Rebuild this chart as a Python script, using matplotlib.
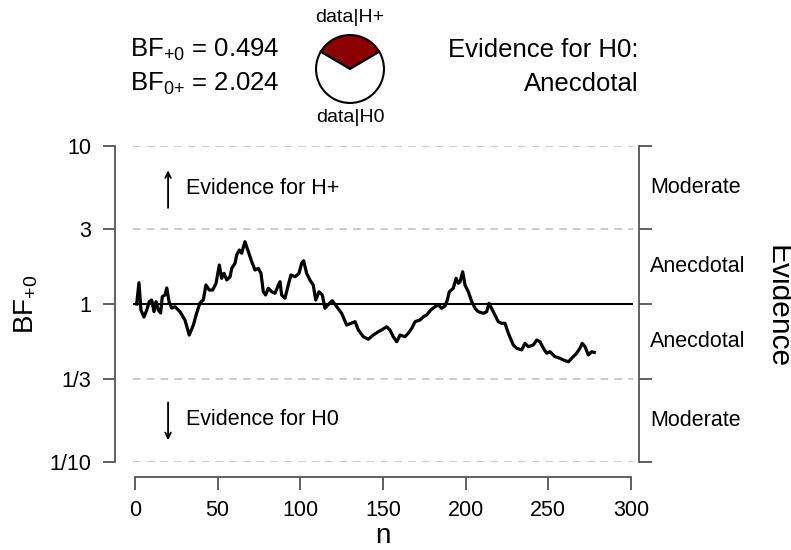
import numpy as np
import matplotlib
matplotlib.use('Agg')
import matplotlib.pyplot as plt
from matplotlib.ticker import NullLocator, FixedLocator, FixedFormatter
import matplotlib.transforms as mtransforms

plt.rcParams['font.family'] = ['Liberation Sans', 'DejaVu Sans']
plt.rcParams['mathtext.default'] = 'regular'

# Sequential BF+0 readings (n, BF)
n_obs = [1, 2.4, 3.6, 5.4, 7.1, 8.6, 10.1, 11.5, 12.7, 14.1,
         15.5, 16.5, 18.1, 19.2, 20.6, 22.2, 24.2, 27.2, 30.2, 32.8,
         35.3, 37.3, 39.3, 41.3, 42.9, 44.9, 47.0, 49.0, 51.0, 52.4,
         53.8, 55.5, 57.5, 58.5, 60.5, 61.5, 63.1, 64.5, 66.5, 68.5,
         70.6, 72.6, 74.6, 76.2, 77.6, 79.0, 80.6, 82.7, 84.7, 86.7,
         87.7, 88.7, 90.7, 92.7, 94.3, 96.8, 99.2, 100.8, 102.0, 103.8,
         105.8, 107.8, 109.3, 111.3, 113.3, 114.9, 116.6, 119.3, 122.0, 125.0,
         128.0, 130.6, 133.1, 135.1, 138.1, 141.1, 144.1, 147.2, 149.2, 152.2,
         154.2, 156.2, 158.3, 160.3, 163.3, 165.3, 167.4, 169.4, 172.4, 174.4,
         176.4, 178.9, 181.4, 183.5, 185.5, 187.5, 188.9, 190.1, 192.5, 194.2,
         195.6, 196.6, 198.2, 199.6, 201.6, 203.7, 205.7, 207.6, 210.7, 212.7,
         214.1, 216.7, 219.7, 221.8, 223.8, 225.8, 228.8, 230.9, 233.9, 235.9,
         237.9, 240.9, 243.0, 245.0, 247.0, 249.0, 251.0, 254.0, 257.1, 259.1,
         262.1, 265.1, 267.1, 269.1, 270.5, 272.2, 274.2, 276.2, 277.8]
bf_obs = [1.0, 1.364, 0.916, 0.827, 0.916, 1.034, 1.060, 0.894, 1.034, 0.916,
          0.877, 1.112, 1.140, 1.263, 1.034, 0.943, 0.961, 0.894, 0.792, 0.636,
          0.736, 0.877, 1.015, 1.060, 1.319, 1.226, 1.226, 1.352, 1.766, 1.454,
          1.564, 1.419, 1.489, 1.682, 1.810, 2.042, 2.197, 2.094, 2.479, 2.15,
          1.852, 1.641, 1.682, 1.564, 1.196, 1.140, 1.257, 1.196, 1.169, 1.319,
          1.384, 1.140, 1.087, 1.319, 1.526, 1.489, 1.564, 1.810, 1.879, 1.564,
          1.419, 1.319, 1.060, 1.196, 1.140, 0.939, 0.985, 1.049, 0.961, 0.873,
          0.736, 0.755, 0.773, 0.685, 0.621, 0.598, 0.636, 0.668, 0.685, 0.718,
          0.685, 0.621, 0.577, 0.636, 0.621, 0.653, 0.702, 0.773, 0.792, 0.831,
          0.852, 0.916, 0.961, 0.985, 0.939, 0.971, 1.060, 1.196, 1.257, 1.454,
          1.352, 1.384, 1.601, 1.319, 1.196, 1.034, 0.939, 0.894, 0.873, 0.894,
          1.010, 0.894, 0.773, 0.755, 0.755, 0.653, 0.550, 0.524, 0.512, 0.564,
          0.537, 0.550, 0.592, 0.577, 0.524, 0.488, 0.499, 0.464, 0.453, 0.442,
          0.431, 0.464, 0.488, 0.524, 0.564, 0.537, 0.476, 0.499, 0.494]

bf10 = 0.494
bf01 = 2.024
y_ticks = [0.1, 1/3, 1, 3, 10]
y_ticklabels = ['1/10', '1/3', '1', '3', '10']
x_ticks = [0, 50, 100, 150, 200, 250, 300]
evidence_pos = [np.sqrt(30), np.sqrt(3), np.sqrt(1/3), np.sqrt(1/30)]
evidence_labels = ['Moderate', 'Anecdotal', 'Anecdotal', 'Moderate']

W, H = 791, 550
fig = plt.figure(figsize=(W / 100, H / 100), dpi=100)
ax = fig.add_axes([133 / W, 1 - 462 / H, 500 / W, 316 / H])

ax.set_yscale('log')
ax.set_ylim(0.1, 10)
ax.set_xlim(-1.21, 301.21)

spine_col = '#555555'
for y in [10, 3, 1/3, 0.1]:
    ax.axhline(y, color='#bdbdbd', lw=1.1, dashes=(5, 4), zorder=1)
ax.axhline(1, color='black', lw=1.5, zorder=2)
ax.plot(n_obs, bf_obs, color='black', lw=2.3, zorder=3, solid_joinstyle='round')

ax.spines['top'].set_visible(False)
ax.spines['left'].set_position(('outward', 13))
ax.spines['bottom'].set_position(('outward', 10.5))
ax.spines['right'].set_position(('outward', 4.5))
ax.spines['bottom'].set_bounds(0, 300)
for s in ['left', 'bottom', 'right']:
    ax.spines[s].set_color(spine_col)
    ax.spines[s].set_linewidth(1.3)

ax.yaxis.set_major_locator(FixedLocator(y_ticks))
ax.yaxis.set_major_formatter(FixedFormatter(y_ticklabels))
ax.yaxis.set_minor_locator(NullLocator())
ax.set_xticks(x_ticks)
ax.tick_params(axis='y', which='major', right=True, length=9, width=1.3,
               color=spine_col, labelsize=15.5, pad=8)
ax.tick_params(axis='x', length=9, width=1.3, color=spine_col,
               labelsize=15.5, pad=8)

ax.set_xlabel('n', fontsize=20, labelpad=1.5)
ax.set_ylabel(r'BF$_{+0}$', fontsize=20, labelpad=7)

# evidence categories on the right
trans = mtransforms.blended_transform_factory(ax.transAxes, ax.transData)
for yv, lab in zip(evidence_pos, evidence_labels):
    ax.text(1.034, yv, lab, transform=trans, fontsize=15.5, va='center', ha='left')
fig.text(777 / W, 1 - 307 / H, 'Evidence', rotation=-90, fontsize=21.5,
         ha='center', va='center')

# arrows
ax.annotate('', xy=(20, 7.3), xytext=(20, 3.9),
            arrowprops=dict(arrowstyle='->', lw=1.3, color='black'))
ax.annotate('', xy=(20, 0.132), xytext=(20, 0.248),
            arrowprops=dict(arrowstyle='->', lw=1.3, color='black'))
ax.text(31, 5.42, 'Evidence for H+', fontsize=15.5, va='center')
ax.text(31, 0.1845, 'Evidence for H0', fontsize=15.5, va='center')

# header
fig.text(130 / W, 1 - 50 / H, r'BF$_{+0}$ = %.3f' % bf10, fontsize=18.5, va='center')
fig.text(130 / W, 1 - 84 / H, r'BF$_{0{+}}$ = %.3f' % bf01, fontsize=18.5, va='center')
fig.text(639 / W, 1 - 50 / H, 'Evidence for H0:', fontsize=18.5, va='center', ha='right')
fig.text(639 / W, 1 - 84 / H, 'Anecdotal', fontsize=18.5, va='center', ha='right')

# pie
p_h1 = bf10 / (1 + bf10)
pax = fig.add_axes([314 / W, 1 - 105 / H, 72 / W, 72 / H])
pax.pie([p_h1, 1 - p_h1], colors=['#8b0000', 'white'],
        startangle=90 - 180 * p_h1, counterclock=True,
        wedgeprops=dict(edgecolor='black', linewidth=1.5))
pax.set_xlim(-1.06, 1.06)
pax.set_ylim(-1.06, 1.06)
pax.set_aspect('equal')
pax.axis('off')
fig.text(350 / W, 1 - 18 / H, 'data|H+', fontsize=14, ha='center', va='center')
fig.text(350 / W, 1 - 118 / H, 'data|H0', fontsize=14, ha='center', va='center')

fig.savefig('out.png', dpi=100)
